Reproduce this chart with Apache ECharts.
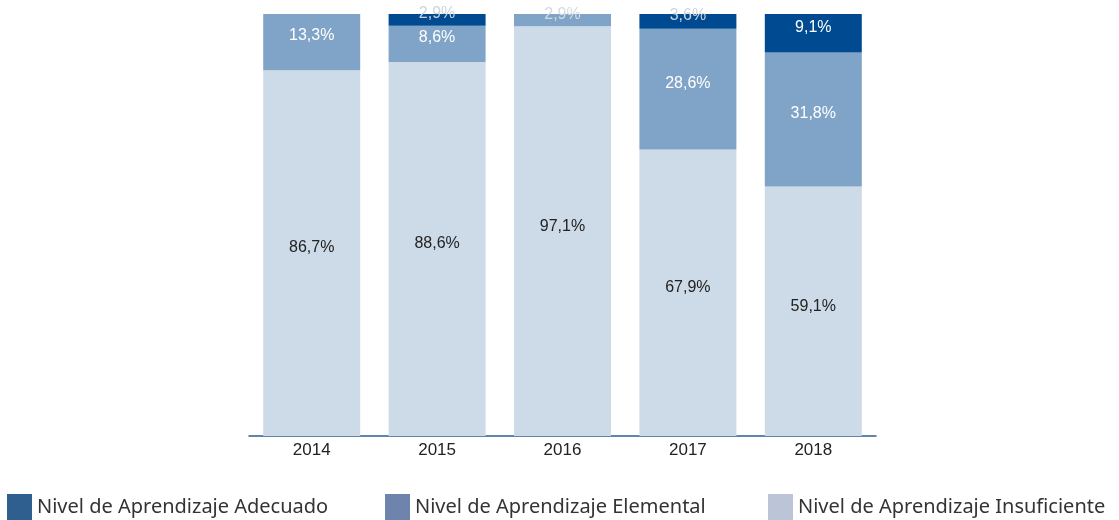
<!DOCTYPE html>
<html>
<head>
<meta charset="utf-8">
<script src="https://cdn.jsdelivr.net/npm/echarts@6/dist/echarts.min.js"></script>
<style>html,body{margin:0;padding:0;background:#fff}#c{width:1119px;height:520px}</style>
</head>
<body>
<div id="c"></div>
<script>
const categories = ['2014', '2015', '2016', '2017', '2018'];
const insuficiente = [86.7, 88.6, 97.1, 67.9, 59.1];
const elemental = [13.3, 8.6, 2.9, 28.6, 31.8];
const adecuado = [0, 2.9, 0, 3.6, 9.1];
const seriesNames = ['Nivel de Aprendizaje Adecuado', 'Nivel de Aprendizaje Elemental', 'Nivel de Aprendizaje Insuficiente'];

const fmt = v => (v === 0 ? '' : v.toFixed(1).replace('.', ',') + '%');
const chart = echarts.init(document.getElementById('c'), null, {renderer: 'canvas'});

function mkData(arr, smallColor, normalColor) {
  return arr.map(v => ({
    value: v,
    label: {color: v < 5 ? smallColor : normalColor}
  }));
}

const legendBase = {
  top: 494,
  padding: 0,
  icon: 'rect',
  itemWidth: 25,
  itemHeight: 27,
  itemGap: 5,
  selectedMode: false,
  textStyle: {fontFamily: 'Noto Sans', fontSize: 20, color: '#333', padding: [0, 0, 0, 0]}
};

const labelBase = {show: true, position: 'inside', fontFamily: 'Liberation Sans', fontSize: 16,
  formatter: p => fmt(p.value)};

chart.setOption({
  animation: false,
  grid: {left: 249, right: 243, top: 14, bottom: 84, containLabel: false},
  legend: [
    Object.assign({}, legendBase, {left: 7, data: [{name: seriesNames[0], itemStyle: {color: '#2f5f8f'}}]}),
    Object.assign({}, legendBase, {left: 385, data: [{name: seriesNames[1], itemStyle: {color: '#6f84ad'}}]}),
    Object.assign({}, legendBase, {left: 768, data: [{name: seriesNames[2], itemStyle: {color: '#bcc4d8'}}]})
  ],
  xAxis: {
    type: 'category',
    data: categories,
    axisLine: {lineStyle: {color: '#2e5d8e', width: 1.5}},
    axisTick: {show: false},
    axisLabel: {color: '#222', fontFamily: 'Liberation Sans', fontSize: 17, margin: 6}
  },
  yAxis: {type: 'value', min: 0, max: 100, show: false, splitLine: {show: false}},
  series: [
    {
      name: seriesNames[2], type: 'bar', stack: 'a', barWidth: 97,
      data: mkData(insuficiente, '#222', '#222'),
      itemStyle: {color: '#cddae7'},
      label: Object.assign({}, labelBase, {offset: [0, -5]})
    },
    {
      name: seriesNames[1], type: 'bar', stack: 'a', barWidth: 97,
      data: mkData(elemental, '#d6dbe2', '#ffffff'),
      itemStyle: {color: '#80a4c8'},
      label: Object.assign({}, labelBase, {offset: [0, -6]})
    },
    {
      name: seriesNames[0], type: 'bar', stack: 'a', barWidth: 97,
      data: mkData(adecuado, '#d0d4da', '#ffffff'),
      itemStyle: {color: '#004a91'},
      label: Object.assign({}, labelBase, {offset: [0, -6]})
    }
  ]
});
</script>
</body>
</html>
